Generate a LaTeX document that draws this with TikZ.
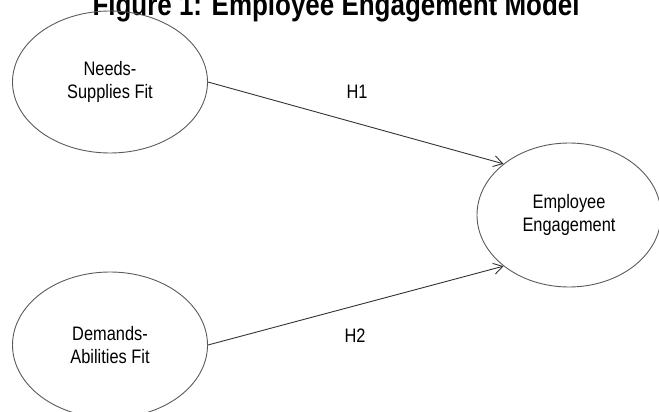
\documentclass[tikz,border=0pt]{standalone}
\usepackage{fontspec}
\setmainfont{Liberation Sans}
\newfontfamily\lblfont[FakeStretch=0.84]{Liberation Sans}
\usetikzlibrary{shapes.geometric,arrows.meta}
\definecolor{edgegray}{HTML}{5A5A5A}
\definecolor{linegray}{HTML}{333333}
\tikzset{
  construct/.style={ellipse, draw=edgegray, line width=0.9pt, inner sep=0pt,
    align=center, font=\lblfont\fontsize{19.5}{22.5}\selectfont},
  hyparrow/.style={draw=linegray, line width=0.9pt,
    -{Straight Barb[length=9pt,width=11pt,line width=0.9pt]}},
  hyplabel/.style={font=\lblfont\fontsize{19.5}{22.5}\selectfont, inner sep=0pt, anchor=base},
}
\begin{document}
\begin{tikzpicture}[x=1pt,y=-1pt]
\useasboundingbox (0,0) rectangle (659,412);
\node[font=\lblfont\bfseries\fontsize{30.9}{34}\selectfont, anchor=base, inner sep=0pt] (title) at (336,15.5) {Figure 1: Employee Engagement Model};
\node[construct, minimum width=195pt, minimum height=142pt] (ns) at (110,82) {Needs-\\Supplies Fit};
\node[construct, minimum width=195pt, minimum height=146pt] (da) at (110,345) {Demands-\\Abilities Fit};
\node[construct, minimum width=184pt, minimum height=144pt] (ee) at (569,215) {Employee\\Engagement};
\draw[hyparrow] (ns.east) -- (ee.142);
\draw[hyparrow] (da.east) -- (ee.218);
\node[hyplabel] (h1) at (357,99) {H1};
\node[hyplabel] (h2) at (355,342) {H2};
\end{tikzpicture}
\end{document}
